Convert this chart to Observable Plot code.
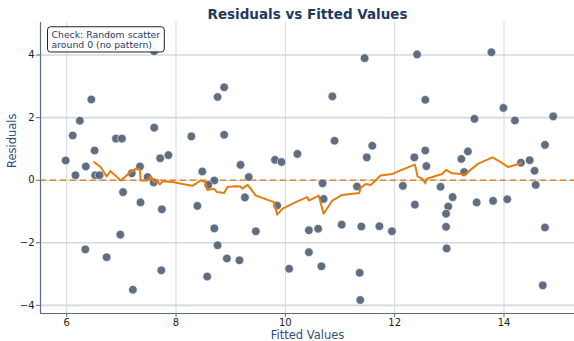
<!DOCTYPE html>
<html>
<head>
<meta charset="utf-8">
<script src="https://cdn.jsdelivr.net/npm/d3@7"></script>
<script src="https://cdn.jsdelivr.net/npm/@observablehq/plot@0.6"></script>
<style>
  html, body { margin: 0; padding: 0; background: #fff; }
  #chart { width: 574px; height: 341px; }
  svg { font-family: "DejaVu Sans", sans-serif; }
</style>
</head>
<body>
<div id="chart"></div>
<script>
const fitted = [5.98,6.11,6.24,6.45,6.51,6.16,6.35,6.52,6.60,6.90,7.01,7.19,7.34,7.48,7.60,7.60,7.71,7.86,6.80,8.28,8.48,8.70,8.76,8.88,8.88,9.18,9.33,9.81,9.93,10.22,10.86,10.90,11.45,11.49,11.59,12.41,12.36,12.56,12.56,12.58,13.22,13.34,13.27,13.46,13.77,13.99,14.20,14.31,14.47,14.56,14.75,14.90,7.59,7.03,7.35,7.74,6.98,6.34,6.73,7.73,7.21,8.39,8.59,8.70,8.76,8.57,8.93,9.16,9.26,9.46,9.85,10.07,10.43,10.43,10.60,10.66,10.68,10.70,11.03,11.31,11.36,11.37,11.39,11.72,11.95,12.15,12.37,12.84,13.06,12.98,12.94,12.94,12.95,13.50,13.80,14.06,14.58,14.75,14.71];
const residuals = [0.63,1.43,1.90,2.58,0.95,0.16,0.44,0.16,0.16,1.33,1.33,0.22,0.44,0.10,1.68,4.12,0.70,0.80,4.62,1.40,0.28,-0.01,2.66,2.97,1.45,0.49,0.10,0.65,0.58,0.84,2.68,1.26,3.90,0.73,1.10,4.02,0.73,0.95,2.57,0.45,0.68,0.92,0.26,1.96,4.09,2.31,1.91,0.56,0.64,0.30,1.13,2.04,-0.07,-0.38,-0.71,-0.93,-1.74,-2.21,-2.46,-2.88,-3.50,-0.82,-0.15,-1.54,-2.08,-3.08,-2.50,-2.56,-0.55,-1.63,-0.81,-2.83,-1.60,-2.30,-1.55,-2.75,-0.10,-0.60,-1.42,-0.20,-2.96,-3.83,-1.48,-1.47,-1.63,-0.18,-0.78,-0.21,-0.54,-0.84,-1.07,-1.49,-2.18,-0.71,-0.66,-0.61,-0.15,-1.51,-3.36];

const trendX = [6.50,6.62,6.73,6.80,6.99,7.14,7.26,7.34,7.35,7.46,7.54,7.60,7.66,7.70,7.76,7.93,8.12,8.30,8.45,8.54,8.57,8.69,8.75,8.88,8.94,9.09,9.18,9.21,9.31,9.46,9.79,9.85,9.95,10.19,10.40,10.43,10.61,10.70,10.86,11.04,11.35,11.38,11.47,11.56,11.65,11.74,11.96,12.14,12.37,12.42,12.51,12.56,12.58,12.72,12.87,12.94,13.05,13.21,13.27,13.36,13.52,13.79,13.94,14.08,14.31];
const trendY = [0.58,0.42,0.12,0.29,-0.01,0.22,0.36,0.35,-0.01,-0.01,0.12,-0.06,0.01,-0.14,-0.03,-0.06,-0.12,-0.18,-0.01,-0.06,-0.31,-0.27,-0.38,-0.41,-0.22,-0.19,-0.20,-0.27,-0.15,-0.49,-0.70,-1.10,-0.91,-0.70,-0.54,-0.65,-0.49,-1.07,-0.65,-0.47,-0.41,-0.24,-0.12,-0.15,-0.01,0.15,0.20,0.34,0.50,0.12,0.04,-0.10,0.04,0.12,0.20,0.33,0.22,0.20,0.15,0.29,0.52,0.73,0.58,0.42,0.54];

const xTicks = [6, 8, 10, 12, 14];
const yTicks = [-4, -2, 0, 2, 4];
const xDomain = [5.52, 15.29];
const yDomain = [-4.26, 5.04];

const title = "Residuals vs Fitted Values";
const xLabel = "Fitted Values";
const yLabel = "Residuals";
const noteLines = ["Check: Random scatter", "around 0 (no pattern)"];

const points = fitted.map((f, i) => ({f, r: residuals[i]}));
const trend = trendX.map((x, i) => ({x, y: trendY[i]}));

const navy = "#1f3a5f";
const slate = "#33507a";
const gridColor = "#d3d7e0";
const axisColor = "#5c6c84";

const plot = Plot.plot({
  width: 574,
  height: 341,
  marginLeft: 40,
  marginRight: 0,
  marginTop: 22,
  marginBottom: 28,
  style: {fontFamily: "DejaVu Sans, sans-serif", background: "#fff"},
  x: {domain: xDomain},
  y: {domain: yDomain},
  marks: [
    Plot.gridX(xTicks, {stroke: gridColor, strokeOpacity: 1, strokeWidth: 1}),
    Plot.gridY(yTicks, {stroke: gridColor, strokeOpacity: 1, strokeWidth: 1.6}),
    Plot.ruleY([0], {stroke: "#e08a2c", strokeWidth: 1.6, strokeDasharray: "6,4"}),
    Plot.dot(points, {x: "f", y: "r", r: 4.3, fill: "#4f5e73", fillOpacity: 0.9, stroke: "#ffffff", strokeWidth: 0.6}),
    Plot.line(trend, {x: "x", y: "y", stroke: "#e47d12", strokeWidth: 2, strokeLinejoin: "round"}),
    Plot.ruleX([xDomain[0]], {stroke: axisColor, strokeWidth: 1.2}),
    Plot.ruleY([yDomain[0]], {stroke: axisColor, strokeWidth: 1.2}),
    Plot.axisX({ticks: xTicks, tickSize: 4, tickPadding: 1, fontSize: 10, label: null, color: "#222", stroke: axisColor}),
    Plot.axisY({ticks: yTicks, tickSize: 4, tickPadding: 2, fontSize: 10, label: null, color: "#222", stroke: axisColor}),
    Plot.text([xLabel], {frameAnchor: "bottom", text: d => d, lineAnchor: "middle", dy: 22, fontSize: 11.5, fill: slate}),
    Plot.text([yLabel], {frameAnchor: "left", text: d => d, lineAnchor: "middle", rotate: -90, dx: -28, fontSize: 11.5, fill: slate}),
    Plot.text([title], {frameAnchor: "top", text: d => d, lineAnchor: "middle", dy: -8, fontSize: 13.5, fontWeight: "bold", fill: navy}),
    Plot.text([noteLines.join("\n")], {frameAnchor: "top-left", text: d => d, dx: 11, dy: 8, fontSize: 9.3, lineHeight: 1.1, fill: navy, textAnchor: "start", className: "note"})
  ]
});

document.getElementById("chart").appendChild(plot);

// draw rounded box behind annotation
const noteText = plot.querySelector("g.note text") || plot.querySelector(".note text");
if (noteText) {
  const bb = noteText.getBBox();
  const g = noteText.parentNode;
  const ctm = noteText.getAttribute("transform");
  const rect = document.createElementNS("http://www.w3.org/2000/svg", "rect");
  rect.setAttribute("x", bb.x - 4);
  rect.setAttribute("y", bb.y - 2);
  rect.setAttribute("width", bb.width + 8);
  rect.setAttribute("height", bb.height + 4);
  rect.setAttribute("rx", 3);
  rect.setAttribute("fill", "white");
  rect.setAttribute("fill-opacity", 0.9);
  rect.setAttribute("stroke", "#222");
  rect.setAttribute("stroke-width", 1);
  if (ctm) rect.setAttribute("transform", ctm);
  g.insertBefore(rect, noteText);
}
</script>
</body>
</html>
